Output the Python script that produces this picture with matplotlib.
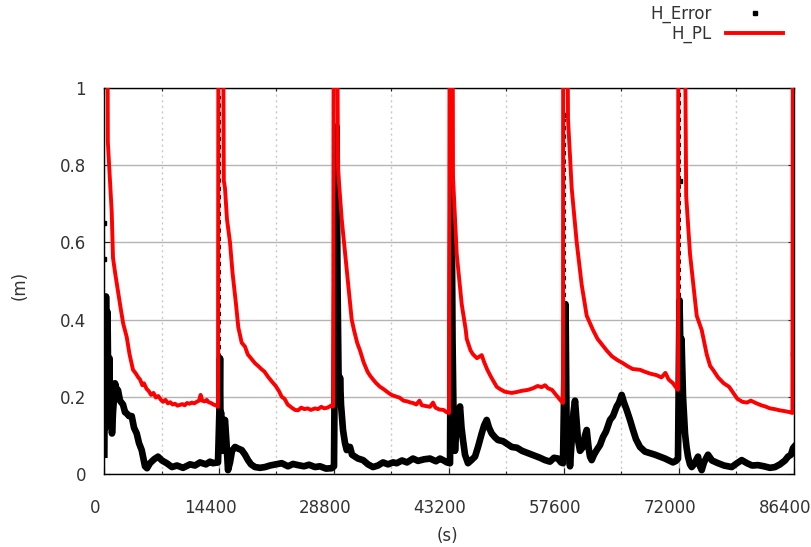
import matplotlib.pyplot as plt
from matplotlib.lines import Line2D
from matplotlib.transforms import ScaledTranslation

# H_PL (red) - time in s, value in m
red_t = [150, 420, 480, 700, 964, 1127, 1400, 1700, 2004, 2400, 2843, 3200, 3631, 4000, 4300,
         4508, 4800, 5000, 5347, 5600, 5900, 6200, 6500, 6800, 7100, 7388, 7700, 8000, 8300,
         8600, 8900, 9200, 9517, 9800, 10100, 10400, 10700, 11000, 11300, 11608, 11900, 12100,
         12300, 12600, 12860, 13100, 13400, 13700, 14000, 14275,
         14330, 14900, 15000, 15152, 15400, 15778, 16100, 16529, 16817, 17243, 17656, 18000,
         18400, 18908, 19300, 19700, 20100, 20536, 21000, 21500, 21900, 22252, 22600, 23000,
         23500, 23917, 24300, 24700, 25100, 25500, 25900, 26421, 26800, 27200, 27600, 28000,
         28512, 28700,
         28760, 29176, 29301, 29765, 30391, 31017, 31300, 31700, 32056, 32500, 33000, 33309,
         33684, 34100, 34561, 35000, 35500, 36000, 36652, 37000, 37500, 38000, 38400, 38693,
         39100, 39500, 39800, 40300, 40822, 41200, 41500, 42000, 42500, 42913, 43200,
         43280, 43650, 43702, 44165, 44791, 45300, 45417, 45900, 46206, 46700, 47083, 47296,
         47600, 48000, 48500, 49174, 49587, 50200, 51053, 51600, 52200, 53094, 53700, 54300,
         54800, 55222, 55600, 56100, 56600, 57200, 57475,
         57500, 58000, 58102, 58565, 59191, 59817, 60443, 61232, 61800, 62948, 63600, 64300,
         64989, 65500, 66200, 67118, 67700, 68400, 69209, 69800, 70300, 70700, 71250, 71600,
         71876,
         71920, 72700, 72900, 73379, 74218, 74843, 75470, 75900, 76259, 76900, 77600, 78267,
         78800, 79300, 79935, 80500, 81000, 81600, 82300, 82800, 83400, 84000, 84600, 85200,
         85901, 86200, 86260, 86400]
red_v = [1.3, 1.3, 0.86, 0.78, 0.68, 0.56, 0.52, 0.48, 0.44, 0.39, 0.355, 0.31, 0.27, 0.26, 0.25,
         0.245, 0.23, 0.235, 0.22, 0.215, 0.205, 0.21, 0.198, 0.202, 0.193, 0.187, 0.192, 0.183,
         0.186, 0.18, 0.182, 0.177, 0.179, 0.181, 0.178, 0.184, 0.182, 0.185, 0.183, 0.187, 0.19,
         0.205, 0.19, 0.188, 0.192, 0.186, 0.184, 0.18, 0.178, 0.174,
         1.3, 1.3, 0.76, 0.74, 0.66, 0.6, 0.52, 0.44, 0.38, 0.34, 0.33, 0.31,
         0.3, 0.287, 0.28, 0.272, 0.265, 0.252, 0.24, 0.228, 0.215, 0.2, 0.195, 0.18,
         0.172, 0.166, 0.165, 0.172, 0.168, 0.17, 0.166, 0.17, 0.168, 0.174, 0.17, 0.172,
         0.178, 0.175,
         1.3, 1.3, 0.79, 0.66, 0.53, 0.4, 0.373, 0.34, 0.32, 0.29, 0.265, 0.255,
         0.245, 0.235, 0.226, 0.22, 0.212, 0.205, 0.2, 0.198, 0.19, 0.188, 0.185, 0.184,
         0.18, 0.19, 0.178, 0.176, 0.174, 0.185, 0.172, 0.167, 0.166, 0.16, 0.158,
         1.3, 1.3, 0.77, 0.57, 0.44, 0.373, 0.35, 0.32, 0.31, 0.3, 0.305, 0.308,
         0.29, 0.27, 0.25, 0.226, 0.22, 0.213, 0.21, 0.212, 0.215, 0.218, 0.222, 0.228,
         0.225, 0.23, 0.222, 0.218, 0.205, 0.19, 0.184,
         1.3, 1.3, 0.92, 0.74, 0.6, 0.49, 0.41, 0.373, 0.35, 0.32, 0.305, 0.295,
         0.287, 0.28, 0.272, 0.27, 0.265, 0.26, 0.256, 0.25, 0.262, 0.245, 0.235, 0.225,
         0.218,
         1.3, 1.3, 0.72, 0.57, 0.41, 0.373, 0.31, 0.28, 0.27, 0.25, 0.235, 0.226,
         0.21, 0.195, 0.187, 0.185, 0.19, 0.184, 0.178, 0.175, 0.17, 0.168, 0.165, 0.163,
         0.16, 0.158, 1.3, 1.3]

# H_Error (black)
err_t = [40, 125, 190, 250, 340, 440, 560, 690, 750, 880, 1000, 1127, 1377, 1565, 1753, 2004,
         2380, 2630, 2843, 3130, 3470, 3757, 4095, 4383, 4720, 5134, 5385, 5760, 6260, 6760,
         7263, 7851, 8515, 9141, 9892, 10769, 11395, 12021, 12772, 13273, 13649, 14275,
         14460, 14525, 14590, 14650, 14776,
         14900, 15152, 15340, 15528, 15778, 16028, 16404, 16780, 17243, 17656, 18032, 18407,
         18908, 19534, 20160, 20786, 21537, 22252, 23041, 23667, 24293, 25044, 25670, 26421,
         27047, 27798, 28512, 28800, 29113, 29239, 29364, 29490,
         29552, 29677, 29928, 30178, 30391, 30554, 30804, 31055, 31430, 31806, 32432, 33058,
         33684, 34310, 34936, 35562, 36188, 36652, 37316, 37942, 38693, 39319, 40070, 40822,
         41573, 42074, 42450, 42951, 43326, 43514, 43640,
         43765, 43953, 44165, 44328, 44579, 44766, 44954, 45204, 45580, 45956, 46457, 46832,
         47296, 47584, 47922, 48210, 48548, 48961, 49337, 49963, 50464, 51053, 51716, 52342,
         53094, 53845, 54596, 55222, 55848, 56349, 56850, 57225, 57475, 57788, 57914,
         58039, 58227, 58352, 58603, 58790, 58978, 59166, 59353, 59604, 59979, 60230, 60443,
         60668, 60856, 61068, 61357, 61695, 62108, 62483, 62859, 63360, 63735, 64199, 64487,
         64825, 65113, 65451, 65864, 66240, 66616, 67117, 67743, 68369, 68995, 69621, 70247,
         70748, 71249, 71625, 71875, 72064, 72189,
         72314, 72502, 72627, 72752, 72940, 73128, 73378, 73591, 73879, 74130, 74380, 74630,
         74843, 75131, 75632, 76133, 76884, 77635, 78600, 79263, 79852, 80515, 81141, 81893,
         82644, 83395, 84021, 84647, 85273, 85648, 86024, 86275, 86400]
err_v = [0.05, 0.40, 0.12, 0.46, 0.20, 0.42, 0.15, 0.30, 0.14, 0.22, 0.105, 0.16, 0.235, 0.22,
         0.217, 0.19, 0.18, 0.16, 0.157, 0.15, 0.15, 0.12, 0.105, 0.08, 0.062, 0.02, 0.015,
         0.028, 0.038, 0.045, 0.035, 0.028, 0.018, 0.022, 0.016, 0.025, 0.022, 0.03, 0.025,
         0.032, 0.028, 0.03,
         0.17, 0.30, 0.1, 0.16, 0.06,
         0.12, 0.14, 0.08, 0.01, 0.03, 0.06, 0.07, 0.066, 0.062, 0.05, 0.036, 0.025,
         0.018, 0.016, 0.018, 0.022, 0.025, 0.028, 0.02, 0.026, 0.023, 0.02, 0.024, 0.018,
         0.02, 0.014, 0.015, 0.02, 0.9, 0.5, 0.26, 0.2,
         0.25, 0.18, 0.114, 0.08, 0.062, 0.07, 0.07, 0.05, 0.045, 0.04, 0.036, 0.025,
         0.018, 0.022, 0.03, 0.025, 0.03, 0.028, 0.035, 0.03, 0.04, 0.034, 0.038, 0.04,
         0.033, 0.04, 0.036, 0.03, 0.028, 0.77, 0.35,
         0.15, 0.06, 0.13, 0.15, 0.175, 0.12, 0.088, 0.05, 0.028, 0.035, 0.045, 0.07,
         0.105, 0.125, 0.14, 0.12, 0.105, 0.095, 0.088, 0.085, 0.078, 0.07, 0.068, 0.06,
         0.054, 0.048, 0.042, 0.036, 0.032, 0.042, 0.04, 0.03, 0.028, 0.44, 0.15,
         0.05, 0.08, 0.02, 0.1, 0.16, 0.19, 0.14, 0.088, 0.06, 0.07, 0.1, 0.114,
         0.07, 0.045, 0.036, 0.05, 0.062, 0.075, 0.096, 0.11, 0.14, 0.15, 0.175, 0.185,
         0.205, 0.185, 0.166, 0.14, 0.114, 0.09, 0.07, 0.058, 0.054, 0.05, 0.045, 0.04,
         0.035, 0.03, 0.034, 0.04, 0.45, 0.3,
         0.35, 0.2, 0.15, 0.105, 0.07, 0.045, 0.025, 0.018, 0.025, 0.035, 0.045, 0.02,
         0.01, 0.03, 0.05, 0.035, 0.028, 0.022, 0.018, 0.028, 0.036, 0.028, 0.022, 0.023,
         0.02, 0.016, 0.018, 0.025, 0.035, 0.045, 0.05, 0.067, 0.07]

# sparse H_Error samples drawn as single points / dashed spikes
dot_t = [60, 60, 57800, 72127, 86300]
dot_v = [0.65, 0.557, 0.93, 0.76, 0.31]
spike_t = [14480, 28720, 43450, 57760, 72100]
spike_top = [0.98, 0.97, 1.0, 0.92, 0.99]
spike_bot = [0.15, 0.15, 0.2, 0.2, 0.2]

xticks = [0, 14400, 28800, 43200, 57600, 72000, 86400]
xminor = [7200, 21600, 36000, 50400, 64800, 79200]
yticks = [0, 0.2, 0.4, 0.6, 0.8, 1]
ylabels = ['0', '0.2', '0.4', '0.6', '0.8', '1']

plt.rcParams['font.family'] = 'DejaVu Sans'
plt.rcParams['font.size'] = 12
txt = '#333333'

fig = plt.figure(figsize=(8.11, 5.47), dpi=100)
ax = fig.add_axes([104/811, 73/547, 690/811, 386/547])

ax.plot(err_t, err_v, color='black', lw=4.8, zorder=3)
ax.vlines(spike_t, spike_bot, spike_top, colors='black', lw=1.5,
          linestyles=(0, (2, 2)), zorder=3)
ax.plot(dot_t, dot_v, 's', color='black', ms=3, zorder=3)
ax.plot(red_t, red_v, color='#ff0000', lw=2.8, zorder=4)

ax.set_xlim(0, 86400)
ax.set_ylim(0, 1)
ax.set_xticks(xticks)
ax.set_xticks(xminor, minor=True)
ax.set_yticks(yticks)
ax.set_yticklabels(ylabels)

ax.set_axisbelow(True)
ax.grid(which='major', color='#b4b4b4', lw=1.0, ls='-')
ax.grid(which='minor', axis='x', color='#c8c8c8', lw=1.0, ls=(0, (1.5, 2.5)))

ax.tick_params(which='both', direction='in', top=True, right=True, colors='#202020',
               labelcolor=txt)
ax.tick_params(which='major', length=4.5, width=0.8)
ax.tick_params(which='minor', length=2.5, width=0.8)
ax.tick_params(axis='x', pad=18)
ax.tick_params(axis='y', pad=13)
for s in ax.spines.values():
    s.set_linewidth(1.0)
    s.set_color('black')

# gnuplot puts the x labels a bit left of the ticks
off = ScaledTranslation(-9/100, 0, fig.dpi_scale_trans)
for lab in ax.get_xticklabels():
    lab.set_transform(lab.get_transform() + off)

fig.text(20/811, 1 - 285/547, '(m)', rotation=90, ha='center', va='center', color=txt)
fig.text(447/811, 1 - 536/547, '(s)', ha='center', va='center', color=txt)

handles = [Line2D([], [], marker='s', ls='none', color='black', ms=3),
           Line2D([], [], color='#ff0000', lw=2.8)]
fig.legend(handles, ['H_Error', 'H_PL'], loc='upper right',
           bbox_to_anchor=(783/811, 1 - 5/547), frameon=False, markerfirst=False,
           handlelength=3.4, handletextpad=0.9, labelspacing=0.1,
           borderpad=0, borderaxespad=0, labelcolor=txt)

fig.savefig('out.png', dpi=100)
